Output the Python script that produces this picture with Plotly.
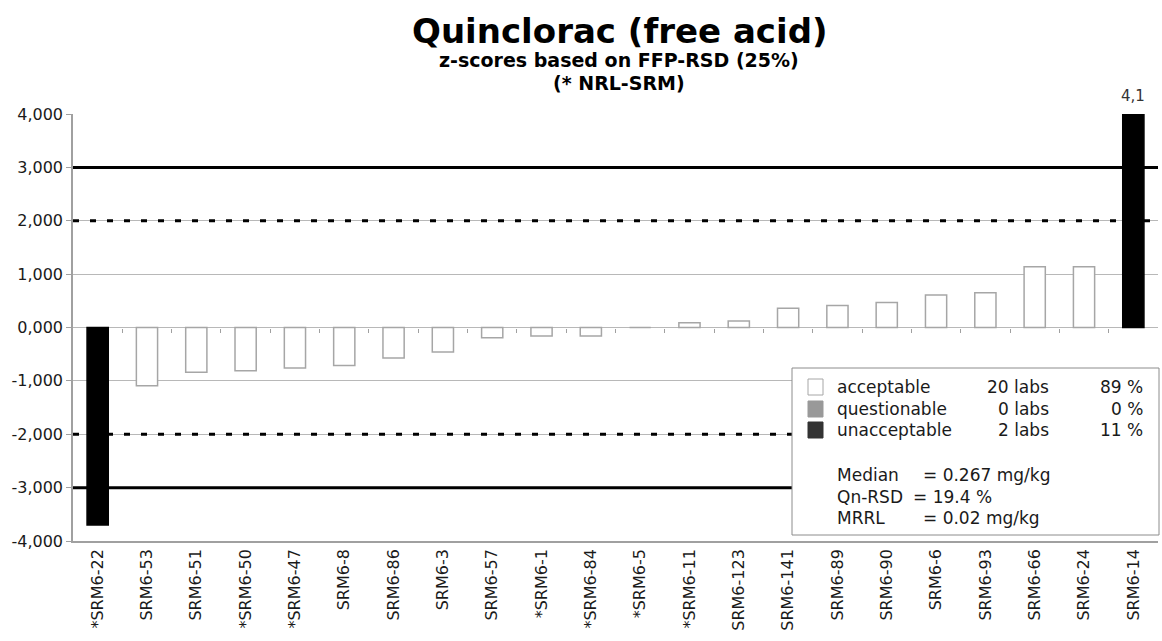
import plotly.graph_objects as go

# z-scores per laboratory (sorted), "*" marks NRL-SRM labs
labs = ["*SRM6-22", "SRM6-53", "SRM6-51", "*SRM6-50", "*SRM6-47", "SRM6-8",
        "SRM6-86", "SRM6-3", "SRM6-57", "*SRM6-1", "*SRM6-84", "*SRM6-5",
        "*SRM6-11", "SRM6-123", "SRM6-141", "SRM6-89", "SRM6-90", "SRM6-6",
        "SRM6-93", "SRM6-66", "SRM6-24", "SRM6-14"]
z_scores = [-3.70, -1.09, -0.84, -0.81, -0.76, -0.71,
            -0.57, -0.46, -0.19, -0.16, -0.16, 0.00,
            0.09, 0.12, 0.36, 0.41, 0.47, 0.61,
            0.65, 1.14, 1.14, 4.10]

y_ticks = [-4, -3, -2, -1, 0, 1, 2, 3, 4]
y_min, y_max = -4, 4

summary_rows = [
    ("acceptable", "20 labs", "89 %"),
    ("questionable", "0 labs", "0 %"),
    ("unacceptable", "2 labs", "11 %"),
]
stats_rows = [
    ("Median", "= 0.267 mg/kg"),
    ("Qn-RSD", "= 19.4 %"),
    ("MRRL", "= 0.02 mg/kg"),
]

# colours per z-score class
C_ACC_FILL, C_ACC_LINE = "#ffffff", "#a6a6a6"
C_QUE = "#999999"
C_UNACC = "#000000"
C_UNACC_SWATCH = "#333333"
GRID = "#b8b8b8"
FONT = "DejaVu Sans"

W, H = 1162, 641
L, R, T, B = 73, 1158, 114, 541


def px(x):
    return (x - L) / (R - L)


def py(y):
    return (B - y) / (B - T)


def bar_fill(z):
    if abs(z) > 3:
        return C_UNACC
    if abs(z) > 2:
        return C_QUE
    return C_ACC_FILL


def bar_line(z):
    return C_UNACC if abs(z) > 3 else C_ACC_LINE


idx = list(range(len(labs)))

fig = go.Figure()
fig.add_trace(go.Bar(
    x=idx, y=z_scores, width=0.43,
    marker=dict(color=[bar_fill(z) for z in z_scores],
                line=dict(color=[bar_line(z) for z in z_scores], width=1.5)),
    showlegend=False, hoverinfo="x+y",
))
# helper trace so the zero-line tick axis is drawn
fig.add_trace(go.Scatter(x=[0], y=[0], xaxis="x2", mode="markers",
                         marker=dict(opacity=0), showlegend=False, hoverinfo="skip"))


def fmt(v, nd):
    return f"{v:.{nd}f}".replace(".", ",")


shapes = []
# limit lines: |z| = 3 solid, |z| = 2 dashed
for v in (3, -3):
    shapes.append(dict(type="line", xref="paper", yref="y", x0=0, x1=1, y0=v, y1=v,
                       line=dict(color="black", width=3), layer="above"))
for v in (2, -2):
    shapes.append(dict(type="line", xref="paper", yref="y", x0=0, x1=1, y0=v, y1=v,
                       line=dict(color="black", width=3, dash="6px,11px"), layer="above"))

# summary box
shapes.append(dict(type="rect", xref="paper", yref="paper",
                   x0=px(792), x1=px(1159), y0=py(535), y1=py(368),
                   fillcolor="white", line=dict(color="#8c8c8c", width=1), layer="above"))
swatches = [(C_ACC_FILL, C_ACC_LINE), (C_QUE, C_QUE), (C_UNACC_SWATCH, C_UNACC_SWATCH)]
row_y = [387, 409, 430]
for (fill, line), yy in zip(swatches, row_y):
    shapes.append(dict(type="rect", xref="paper", yref="paper",
                       x0=px(808), x1=px(823), y0=py(yy + 8), y1=py(yy - 8),
                       fillcolor=fill, line=dict(color=line, width=1), layer="above"))

annotations = []
txt_font = dict(family=FONT, size=17, color="#1a1a1a")
for (name, n, pct), yy in zip(summary_rows, row_y):
    annotations.append(dict(x=px(835), y=py(yy), xref="paper", yref="paper", text=name,
                            xanchor="left", yanchor="middle", showarrow=False, font=txt_font))
    annotations.append(dict(x=px(1051), y=py(yy), xref="paper", yref="paper", text=n,
                            xanchor="right", yanchor="middle", showarrow=False, font=txt_font))
    annotations.append(dict(x=px(1145), y=py(yy), xref="paper", yref="paper", text=pct,
                            xanchor="right", yanchor="middle", showarrow=False, font=txt_font))
eq_x = [921, 911, 921]
for (name, val), yy, ex in zip(stats_rows, [475, 497, 518], eq_x):
    annotations.append(dict(x=px(835), y=py(yy), xref="paper", yref="paper", text=name,
                            xanchor="left", yanchor="middle", showarrow=False, font=txt_font))
    annotations.append(dict(x=px(ex), y=py(yy), xref="paper", yref="paper", text=val,
                            xanchor="left", yanchor="middle", showarrow=False, font=txt_font))

# value labels for bars beyond the axis range (placed from the value itself)
for i, z in zip(idx, z_scores):
    if z > y_max:
        annotations.append(dict(x=i, y=(z - y_min) / (y_max - y_min), xref="x", yref="paper",
                                text=fmt(z, 1), xanchor="center", yanchor="bottom", yshift=2,
                                showarrow=False,
                                font=dict(family=FONT, size=15, color="#333333")))

# titles
annotations += [
    dict(x=px(620), y=py(31), xref="paper", yref="paper", text="<b>Quinclorac (free acid)</b>",
         showarrow=False, xanchor="center", yanchor="middle",
         font=dict(family=FONT, size=34, color="black")),
    dict(x=px(619), y=py(60), xref="paper", yref="paper",
         text="<b>z-scores based on FFP-RSD (25%)</b>",
         showarrow=False, xanchor="center", yanchor="middle",
         font=dict(family=FONT, size=19, color="black")),
    dict(x=px(619), y=py(83), xref="paper", yref="paper", text="<b>(* NRL-SRM)</b>",
         showarrow=False, xanchor="center", yanchor="middle",
         font=dict(family=FONT, size=19, color="black")),
]

fig.update_layout(
    width=W, height=H,
    margin=dict(l=L, r=W - R, t=T, b=H - B, pad=0),
    paper_bgcolor="white", plot_bgcolor="white",
    font=dict(family=FONT, color="#1a1a1a"),
    bargap=0.57,
    xaxis=dict(range=[-0.5, len(labs) - 0.5], tickvals=idx, ticktext=labs,
               tickangle=-90, tickfont=dict(family=FONT, size=16, color="#1a1a1a"),
               showline=True, linecolor="#a0a0a0", linewidth=1.5, ticks="",
               showgrid=False, zeroline=False, fixedrange=True),
    xaxis2=dict(overlaying="x", anchor="free", position=py(327.7), side="bottom",
                range=[-0.5, len(labs) - 0.5],
                tickvals=[i + 0.5 for i in idx[:-1]], ticks="outside", ticklen=4,
                tickcolor="#a0a0a0", tickwidth=1, showticklabels=False,
                showline=False, showgrid=False, zeroline=False),
    yaxis=dict(range=[y_min, y_max], tickvals=y_ticks,
               ticktext=[fmt(v, 3) for v in y_ticks],
               tickfont=dict(family=FONT, size=16, color="#1a1a1a"),
               showgrid=True, gridcolor=GRID, gridwidth=1,
               zeroline=True, zerolinecolor=GRID, zerolinewidth=1,
               showline=True, linecolor="#a0a0a0", linewidth=1.5,
               ticks="outside", ticklen=5, tickcolor="#a0a0a0"),
    shapes=shapes,
    annotations=annotations,
)

fig.write_html("out.html")
